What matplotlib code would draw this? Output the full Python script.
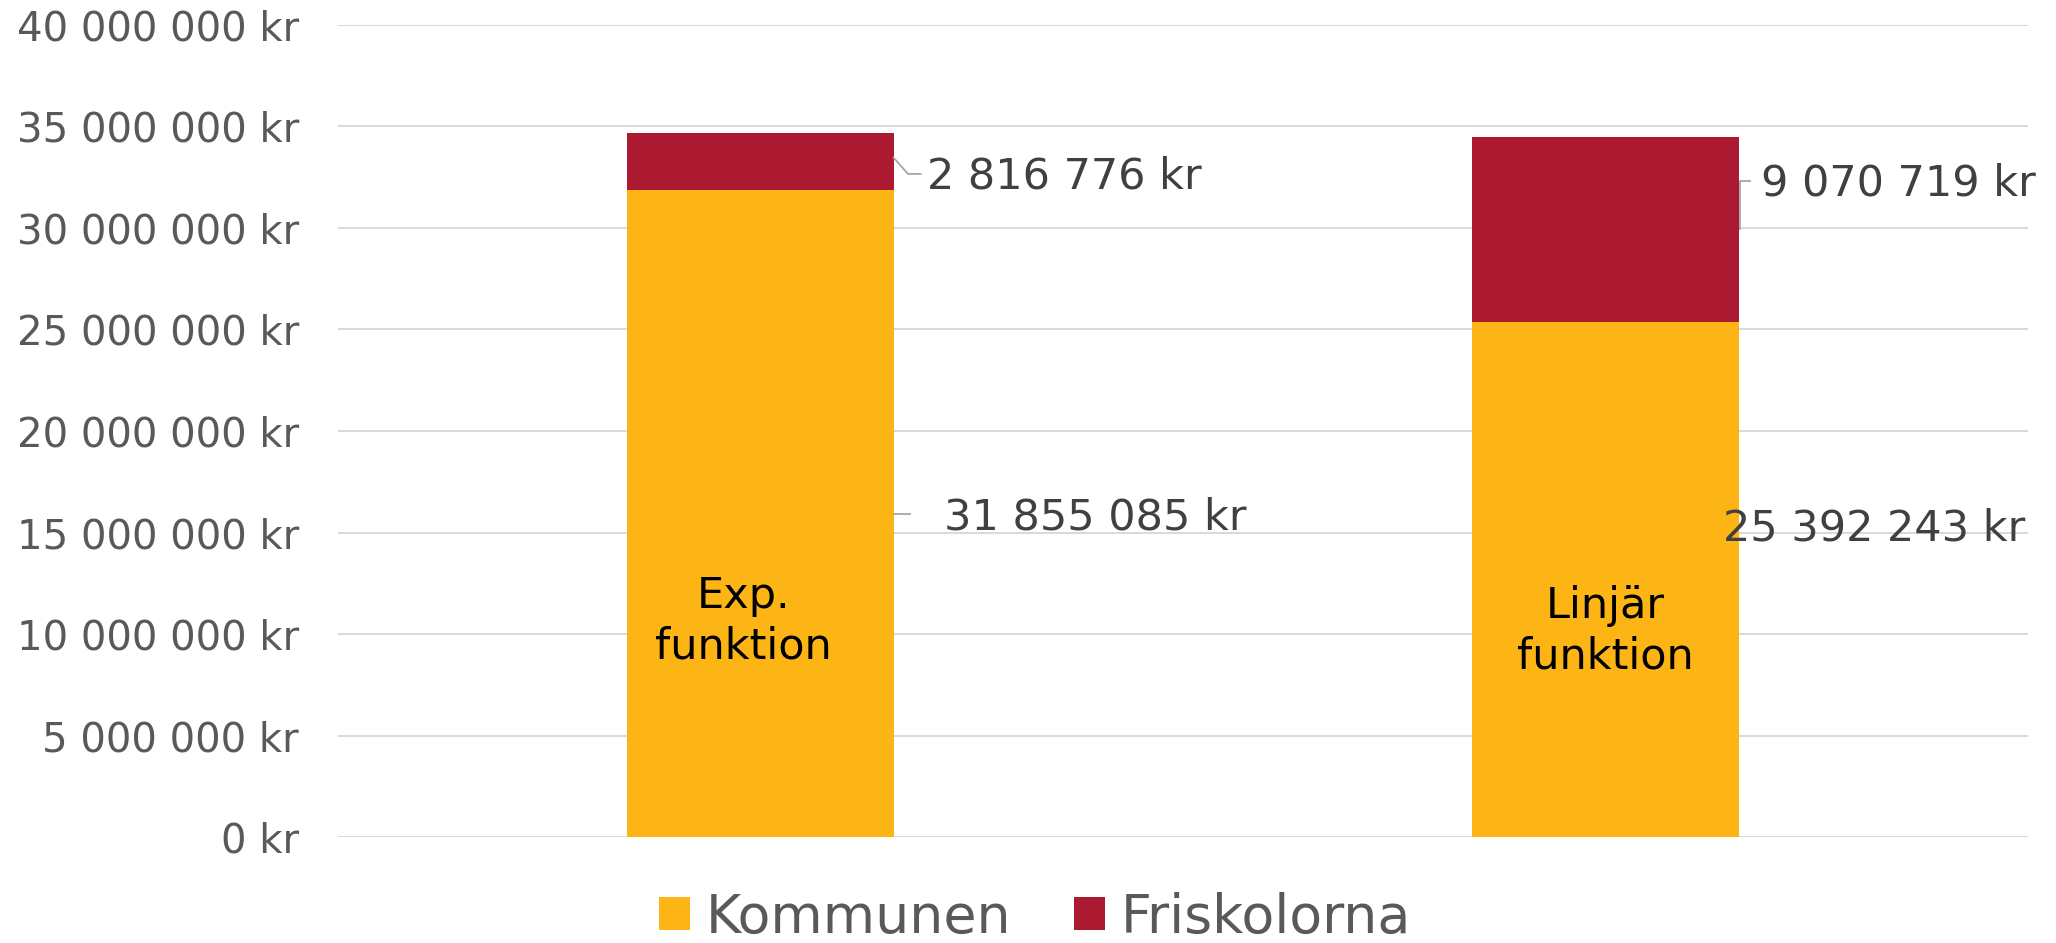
import numpy as np
import matplotlib
matplotlib.use("Agg")
import matplotlib.pyplot as plt
from matplotlib.patches import Patch

# data
categories = ["Exp.\nfunktion", "Linjär\nfunktion"]
kommunen = [31855085, 25392243]
friskolorna = [2816776, 9070719]
series_names = ["Kommunen", "Friskolorna"]
yticks = [0, 5e6, 10e6, 15e6, 20e6, 25e6, 30e6, 35e6, 40e6]

ORANGE = "#FDB515"
RED = "#AB1A31"


def kr(v):
    return f"{v:,.0f}".replace(",", " ") + " kr"


plt.rcParams["font.family"] = ["DejaVu Sans"]
fig = plt.figure(figsize=(20.56, 9.43), dpi=100)
ax = fig.add_axes([0.1644, 0.1124, 0.8220, 0.8611])

x = np.arange(len(categories))
w = 0.315
ax.bar(x, kommunen, w, color=ORANGE, zorder=3)
ax.bar(x, friskolorna, w, bottom=kommunen, color=RED, zorder=3)

ax.set_xlim(-0.5, 1.5)
ax.set_ylim(0, 40e6)
ax.set_yticks(yticks)
ax.set_yticklabels([kr(v) for v in yticks], fontsize=29, color="#595959")
ax.set_xticks([])
ax.tick_params(axis="y", length=0, pad=28)
for s in ax.spines.values():
    s.set_visible(False)
ax.yaxis.grid(True, color="#D9D9D9", linewidth=1.4, zorder=0)

# category names inside the bars
ax.text(x[0] - 0.02, 10.64e6, categories[0], ha="center", va="center",
        fontsize=31, color="black", linespacing=1.25, zorder=4)
ax.text(x[1], 10.15e6, categories[1], ha="center", va="center",
        fontsize=31, color="black", linespacing=1.25, zorder=4)

lab = dict(fontsize=31, color="#404040", va="center", ha="left", zorder=4)
lead = dict(color="#A6A6A6", linewidth=1.3, zorder=4)
edge0 = x[0] + w / 2
edge1 = x[1] + w / 2

# bar 1, friskolorna
top0 = kommunen[0] + friskolorna[0] / 2
ax.plot([edge0, edge0 + 0.017, edge0 + 0.032],
        [top0 + 0.2e6, top0 - 0.6e6, top0 - 0.6e6], **lead)
ax.text(edge0 + 0.04, top0 - 0.73e6, kr(friskolorna[0]), **lab)

# bar 1, kommunen
mid0 = kommunen[0] / 2
ax.plot([edge0, edge0 + 0.019], [mid0, mid0], **lead)
ax.text(edge0 + 0.06, mid0 - 0.2e6, kr(kommunen[0]), **lab)

# bar 2, friskolorna
top1 = kommunen[1] + friskolorna[1] / 2
ax.plot([edge1 + 0.002, edge1 + 0.002, edge1 + 0.013],
        [top1, top1 + 2.4e6, top1 + 2.4e6], **lead)
ax.text(edge1 + 0.026, top1 + 2.27e6, kr(friskolorna[1]), **lab)

# bar 2, kommunen
ax.text(edge1 - 0.018, 15.19e6, kr(kommunen[1]), **lab)

handles = [Patch(facecolor=ORANGE), Patch(facecolor=RED)]
fig.legend(handles, series_names, loc="center", bbox_to_anchor=(0.5035, 0.027),
           ncol=2, frameon=False, fontsize=38.7, labelcolor="#595959",
           handlelength=0.57, handleheight=0.57, handletextpad=0.3,
           columnspacing=1.17, borderpad=0)

fig.savefig("out.png", dpi=100)
